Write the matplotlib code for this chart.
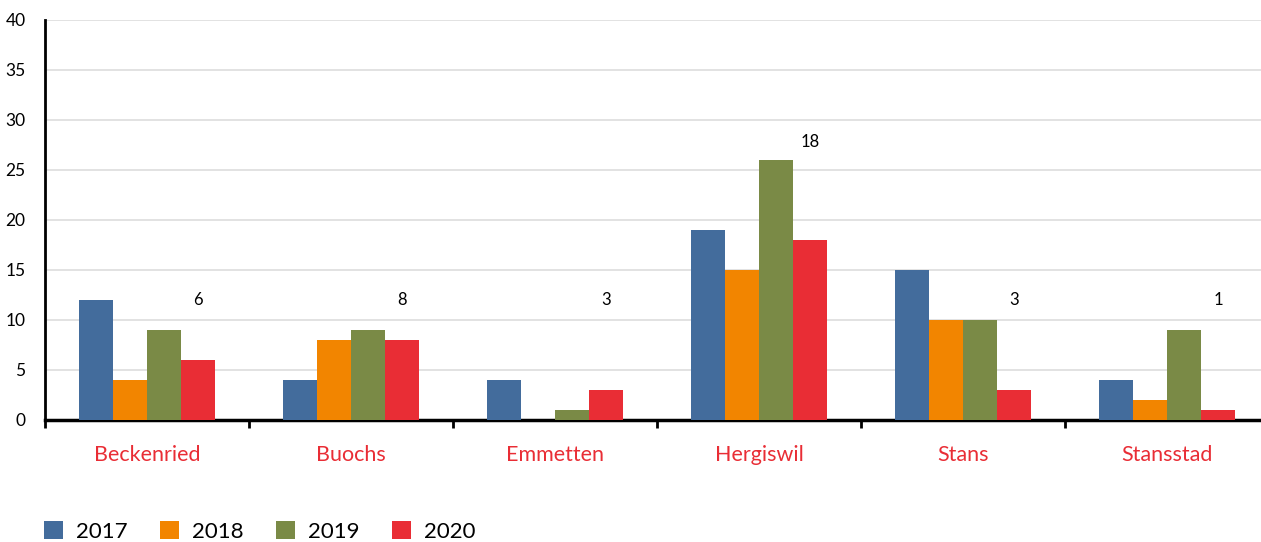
import matplotlib
matplotlib.use("Agg")
import matplotlib.pyplot as plt
from matplotlib.patches import Patch
from matplotlib.ticker import FixedLocator, NullFormatter
import numpy as np

categories = ["Beckenried", "Buochs", "Emmetten", "Hergiswil", "Stans", "Stansstad"]
years = ["2017", "2018", "2019", "2020"]
v2017 = [12, 4, 4, 19, 15, 4]
v2018 = [4, 8, 0, 15, 10, 2]
v2019 = [9, 9, 1, 26, 10, 9]
v2020 = [6, 8, 3, 18, 3, 1]
colors = ["#436C9C", "#F28500", "#7A8A46", "#E92D35"]
yticks = [0, 5, 10, 15, 20, 25, 30, 35, 40]

plt.rcParams['font.family'] = ['Lato', 'DejaVu Sans']

W, H = 1261, 542
fig = plt.figure(figsize=(W / 100, H / 100), dpi=100)
ax = fig.add_axes([45 / W, (H - 420) / H, 1224 / W, 400 / H])

series = [v2017, v2018, v2019, v2020]
x = np.arange(len(categories))
bw = 1 / 6
for i, (vals, c) in enumerate(zip(series, colors)):
    ax.bar(x + (i - 1.5) * bw, vals, width=bw, color=c, zorder=3, linewidth=0)

# labels over 2020 bars
for xi, v19, v20 in zip(x, v2019, v2020):
    top = max(12, v19 + 1.8)
    ax.text(xi + 1.5 * bw, top, str(v20), ha='center', va='center',
            fontsize=12, color='black', zorder=4)

ax.set_xlim(-0.5, len(categories) - 0.5)
ax.set_ylim(0, 40)
ax.set_yticks(yticks)
ax.set_yticklabels([str(t) for t in yticks], fontsize=12.5)
ax.tick_params(axis='y', length=0, pad=14)
ax.yaxis.grid(True, color='#DDDDDD', linewidth=1.2, zorder=0)
ax.set_axisbelow(True)

ax.xaxis.set_major_locator(FixedLocator(list(np.arange(len(categories) + 1) - 0.5)))
ax.xaxis.set_major_formatter(NullFormatter())
ax.xaxis.set_minor_locator(FixedLocator(list(x)))
ax.set_xticklabels(categories, minor=True, fontsize=15.5, color='#E92D35')
ax.tick_params(axis='x', which='major', length=6, width=2, direction='out', color='black')
ax.tick_params(axis='x', which='minor', length=0, pad=18)

for s in ['top', 'right']:
    ax.spines[s].set_visible(False)
ax.spines['left'].set_linewidth(2)
ax.spines['bottom'].set_linewidth(2.5)

handles = [Patch(facecolor=c, edgecolor='none', label=y) for c, y in zip(colors, years)]
fig.legend(handles=handles, loc='lower left', bbox_to_anchor=(24 / W, -20 / H), ncol=4,
           frameon=False, fontsize=16, handlelength=0.85, handleheight=0.85,
           handletextpad=0.6, columnspacing=1.45)

fig.savefig("out.png", dpi=100)
